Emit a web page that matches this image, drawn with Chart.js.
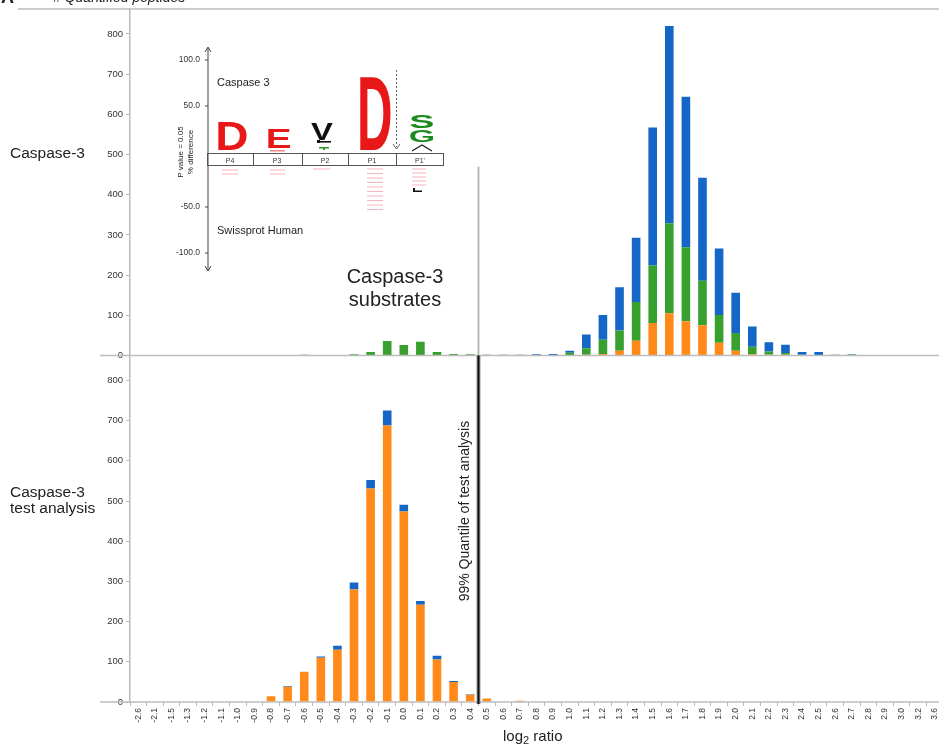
<!DOCTYPE html>
<html><head><meta charset="utf-8">
<script src="https://cdn.jsdelivr.net/npm/chart.js@4.4.1/dist/chart.umd.min.js"></script>
<style>
html,body{margin:0;padding:0;overflow:hidden;background:#fff;}
#wrap{position:relative;width:947px;height:750px;}
</style></head><body>
<div id="wrap"><canvas id="c" width="947" height="750"></canvas></div>
<script>
// ---- data ----
const categories = ['-2.6','-2.1','-1.5','-1.3','-1.2','-1.1','-1.0','-0.9','-0.8','-0.7','-0.6','-0.5','-0.4','-0.3','-0.2','-0.1','0.0','0.1','0.2','0.3','0.4','0.5','0.6','0.7','0.8','0.9','1.0','1.1','1.2','1.3','1.4','1.5','1.6','1.7','1.8','1.9','2.0','2.1','2.2','2.3','2.4','2.5','2.6','2.7','2.8','2.9','3.0','3.2','3.6'];
// Caspase-3 substrates panel (stacked: orange, green, blue)
const substratesOrange = [0,0,0,0,0,0,0,0,0,0,0,0,0,0,0,0,0,0,0,0,0,0,0,0,0,0,0,2,4,12,37,81,105,85,75,32,12,3,2,2,0,0,0,0,0,0,0,0,0];
const substratesGreen  = [0,0,0,0,0,0,0,0,0,0,2,0,0,3,9,36,26,34,9,4,3,0,0,0,1,1,7,16,35,50,96,143,224,184,111,69,44,19,8,4,2,1,0,2,0,0,0,0,0];
const substratesBlue   = [0,0,0,0,0,0,0,0,0,0,0,0,0,0,0,0,0,0,0,0,0,2,2,2,2,3,5,34,62,108,160,343,491,375,256,165,100,50,23,21,7,8,2,1,1,0,0,0,0];
// Caspase-3 test analysis panel (stacked: orange, blue)
const testOrange = [0,0,1,0,0,0,1,1,14,38,75,110,130,280,531,688,474,242,106,50,18,9,1,3,0,0,0,0,0,0,0,0,0,0,0,0,0,0,0,0,0,0,0,0,0,0,2,0,0];
const testBlue   = [0,0,0,0,0,0,0,0,0,2,0,3,10,17,21,37,17,9,9,2,1,0,0,0,0,0,0,0,0,0,0,0,0,0,0,0,0,0,0,0,0,0,0,0,0,0,0,0,0];
const yTickValues = [0,100,200,300,400,500,600,700,800];
const quantileBoundary = 20.5; // between 0.4 and 0.5

const ORANGE = '#ff8a1a', GREEN = '#37a02e', BLUE = '#1467c6';
const FONT = '"Liberation Sans", Arial, Helvetica, sans-serif';
Chart.defaults.font.family = FONT;

function keepTicks(scale){ scale.ticks = scale.ticks.filter(t => yTickValues.includes(t.value)); }

function stretchText(ctx, ch, x, y, w, h, color){
  ctx.save();
  ctx.font = 'bold 100px ' + FONT;
  const m = ctx.measureText(ch);
  const gw = m.actualBoundingBoxLeft + m.actualBoundingBoxRight;
  const gh = m.actualBoundingBoxAscent + m.actualBoundingBoxDescent;
  ctx.translate(x, y);
  ctx.scale(w / gw, h / gh);
  ctx.fillStyle = color;
  ctx.textBaseline = 'alphabetic';
  ctx.fillText(ch, m.actualBoundingBoxLeft, m.actualBoundingBoxAscent);
  ctx.restore();
}
function seg(ctx, x1, y1, x2, y2){ ctx.beginPath(); ctx.moveTo(x1,y1); ctx.lineTo(x2,y2); ctx.stroke(); }

function drawLogo(ctx){
  ctx.save();
  // axis with arrows
  ctx.strokeStyle = '#444'; ctx.lineWidth = 1;
  seg(ctx, 208, 48, 208, 270);
  seg(ctx, 205, 52, 208, 47); seg(ctx, 211, 52, 208, 47);
  seg(ctx, 205, 266, 208, 271); seg(ctx, 211, 266, 208, 271);
  ctx.fillStyle = '#333'; ctx.font = '8.5px ' + FONT; ctx.textAlign = 'right'; ctx.textBaseline = 'middle';
  [['100.0',60],['50.0',106],['-50.0',207],['-100.0',253]].forEach(([t,y])=>{ ctx.fillText(t, 200, y); seg(ctx, 205, y, 208, y); });
  ctx.textAlign = 'left'; ctx.textBaseline = 'alphabetic'; ctx.font = '11px ' + FONT; ctx.fillStyle = '#222';
  ctx.fillText('Caspase 3', 217, 86);
  ctx.fillText('Swissprot Human', 217, 234);
  // rotated side labels
  ctx.save(); ctx.translate(183, 152); ctx.rotate(-Math.PI/2); ctx.font = '8px ' + FONT; ctx.textAlign = 'center';
  ctx.fillText('P value = 0.05', 0, 0); ctx.fillText('% difference', 0, 10); ctx.restore();
  // position box
  ctx.strokeStyle = '#555'; ctx.lineWidth = 1;
  ctx.strokeRect(207.5, 153.5, 236, 12);
  [253, 302, 348, 396].forEach(x => seg(ctx, x+0.5, 153.5, x+0.5, 165.5));
  ctx.font = '7px ' + FONT; ctx.textAlign = 'center'; ctx.fillStyle = '#333';
  [['P4',230],['P3',277],['P2',325],['P1',372],['P1\'',420]].forEach(([t,x]) => ctx.fillText(t, x, 162.5));
  // letters
  stretchText(ctx, 'D', 218, 122, 29, 28, '#e81818');
  stretchText(ctx, 'E', 268, 129, 22, 19, '#e81818');
  stretchText(ctx, 'V', 311, 123, 22, 17, '#111');
  stretchText(ctx, 'D', 360, 77, 31, 73, '#e81818');
  stretchText(ctx, 'S', 410, 115, 23, 13, '#1d8a1d');
  stretchText(ctx, 'G', 410, 130, 23, 12, '#1d8a1d');
  ctx.strokeStyle = '#222'; ctx.lineWidth = 1.3;
  ctx.beginPath(); ctx.moveTo(412, 151); ctx.lineTo(422, 145); ctx.lineTo(432, 151); ctx.stroke();
  ctx.fillStyle = '#111'; ctx.fillRect(318, 141, 13, 1.6); ctx.fillRect(317, 140, 3, 3);
  ctx.fillStyle = '#2a9a2a'; ctx.fillRect(319, 147, 10, 1.5); ctx.fillRect(323, 147, 2, 3);
  ctx.fillStyle = '#e88'; ctx.fillRect(270, 150, 15, 1.5);
  // dashed arrow
  ctx.strokeStyle = '#666'; ctx.lineWidth = 1; ctx.setLineDash([2,2]);
  seg(ctx, 396.5, 70, 396.5, 147); ctx.setLineDash([]);
  seg(ctx, 393, 144, 396.5, 149); seg(ctx, 400, 144, 396.5, 149);
  // faint pink residues below box
  ctx.strokeStyle = 'rgba(230,90,110,0.45)'; ctx.lineWidth = 1;
  [170,174].forEach(y => { seg(ctx, 222, y, 238, y); seg(ctx, 270, y, 285, y); });
  seg(ctx, 313, 169, 330, 169);
  for (let y = 169; y <= 210; y += 4.5) seg(ctx, 367, y, 383, y);
  for (let y = 169; y <= 187; y += 4) seg(ctx, 412, y, 426, y);
  ctx.fillStyle = '#111'; ctx.fillRect(413, 188, 2, 4); ctx.fillRect(413, 190.5, 9, 1.5);
  ctx.restore();
}

const decor = {
  id: 'decor',
  afterDraw(chart){
    const ctx = chart.ctx, xs = chart.scales.x, y1 = chart.scales.y1, y2 = chart.scales.y2, a = chart.chartArea;
    ctx.save();
    ctx.strokeStyle = '#bdbdbd'; ctx.lineWidth = 1.5;
    seg(ctx, 18, a.top, 947, a.top);
    const sep = y1.getPixelForValue(0);
    seg(ctx, 100, sep, 947, sep);
    seg(ctx, 100, a.bottom, 947, a.bottom);
    // quantile line
    const qx = xs.getPixelForValue(quantileBoundary);
    ctx.strokeStyle = '#b8b8b8'; ctx.lineWidth = 2;
    seg(ctx, qx, y1.getPixelForValue(470), qx, sep);
    ctx.strokeStyle = '#999'; ctx.lineWidth = 4;
    seg(ctx, qx, y2.top, qx, y2.getPixelForValue(0) + 2);
    ctx.strokeStyle = '#111'; ctx.lineWidth = 2;
    seg(ctx, qx, y2.top, qx, y2.getPixelForValue(0) + 2);
    // texts
    ctx.fillStyle = '#222';
    ctx.font = '15.5px ' + FONT; ctx.textAlign = 'left'; ctx.textBaseline = 'alphabetic';
    ctx.fillText('Caspase-3', 10, 158);
    ctx.fillText('Caspase-3', 10, 497);
    ctx.fillText('test analysis', 10, 513);
    ctx.font = 'italic 14px ' + FONT;
    ctx.fillText('# Quantified peptides', 53, 2);
    ctx.font = 'bold 18px ' + FONT;
    ctx.fillText('A', 1, 3);
    ctx.font = '20px ' + FONT; ctx.textAlign = 'center';
    ctx.fillText('Caspase-3', 395, 283);
    ctx.fillText('substrates', 395, 306);
    // rotated quantile label
    ctx.save(); ctx.translate(qx - 9, y2.getPixelForValue(475)); ctx.rotate(-Math.PI/2);
    ctx.font = '14px ' + FONT; ctx.textAlign = 'center'; ctx.fillText('99% Quantile of test analysis', 0, 0); ctx.restore();
    // x-axis title with subscript
    ctx.textAlign = 'left'; ctx.font = '15px ' + FONT;
    let tx = 503; const ty = 741;
    ctx.fillText('log', tx, ty); tx += ctx.measureText('log').width;
    ctx.font = '11px ' + FONT; ctx.fillText('2', tx, ty + 3); tx += ctx.measureText('2').width;
    ctx.font = '15px ' + FONT; ctx.fillText(' ratio', tx, ty);
    drawLogo(ctx);
    ctx.restore();
  }
};

const yAxisCommon = {
  type: 'linear', stack: 'panels', stackWeight: 1, stacked: true, position: 'left',
  min: 0, max: 862,
  ticks: { stepSize: 100, font: { size: 9.5 }, color: '#333', padding: 3 },
  grid: { drawOnChartArea: false, tickLength: 4, color: '#bbb' },
  border: { display: true, color: '#bbb', width: 1.5 },
  afterBuildTicks: keepTicks,
  afterFit: s => { s.width = 30; }
};

new Chart(document.getElementById('c'), {
  type: 'bar',
  data: {
    labels: categories,
    datasets: [
      { label: 'substrates orange', data: substratesOrange, backgroundColor: ORANGE, yAxisID: 'y1' },
      { label: 'substrates green',  data: substratesGreen,  backgroundColor: GREEN,  yAxisID: 'y1' },
      { label: 'substrates blue',   data: substratesBlue,   backgroundColor: BLUE,   yAxisID: 'y1' },
      { label: 'test orange', data: testOrange, backgroundColor: ORANGE, yAxisID: 'y2' },
      { label: 'test blue',   data: testBlue,   backgroundColor: BLUE,   yAxisID: 'y2' }
    ]
  },
  options: {
    responsive: false, animation: false,
    datasets: { bar: { barPercentage: 0.52, categoryPercentage: 1.0, borderWidth: 0 } },
    layout: { padding: { left: 100, top: 9, right: 0, bottom: 0 } },
    plugins: { legend: { display: false }, tooltip: { enabled: false } },
    scales: {
      x: {
        stacked: true,
        ticks: { autoSkip: false, maxRotation: 90, minRotation: 90, font: { size: 8.5 }, color: '#333', padding: 2 },
        grid: { drawOnChartArea: false, tickLength: 4, color: '#bbb', offset: true },
        border: { display: false },
        afterFit: s => { s.height = 48; }
      },
      y1: Object.assign({}, yAxisCommon, { weight: 1 }),
      y2: Object.assign({}, yAxisCommon, { weight: 0 })
    }
  },
  plugins: [decor]
});
</script>
</body></html>
